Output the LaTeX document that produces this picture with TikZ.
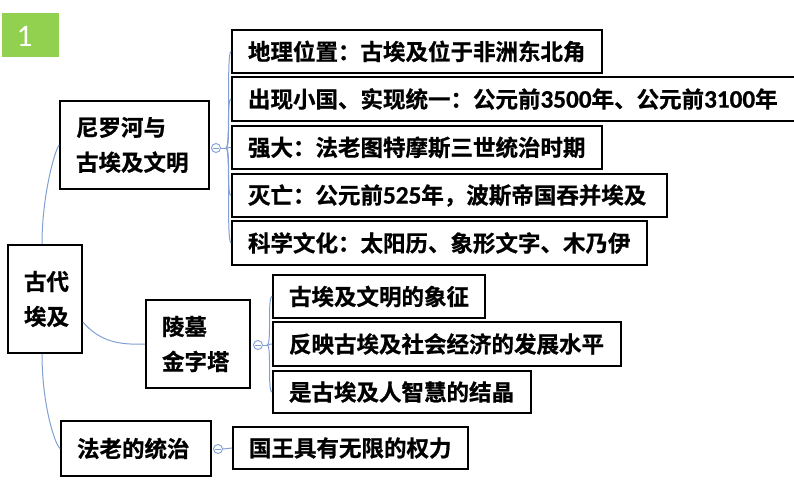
\documentclass[tikz,border=0pt]{standalone}
\usepackage{fontspec}
\setmainfont{Noto Sans CJK SC}[BoldFont={Noto Sans CJK SC Bold}, BoldFeatures={FakeBold=0.8}]
\newfontfamily\lat{Carlito}[Scale=1.12, BoldFont={Carlito Bold}, BoldFeatures={FakeBold=0.8}]
\usetikzlibrary{calc}
\definecolor{conncol}{RGB}{128,160,212}
\definecolor{tagGreen}{RGB}{146,208,80}
\tikzset{
  bx/.style={draw=black, line width=1.8pt, fill=white, inner xsep=16pt, inner ysep=0pt,
    align=left, font=\bfseries\fontsize{22.5}{35}\selectfont},
  conn/.style={draw=conncol, line width=1pt},
  circ/.style={draw=conncol, line width=0.9pt, circle, minimum size=9pt, inner sep=0pt, fill=white,
    path picture={\draw[conncol, line width=0.9pt] ([xshift=1.5pt]path picture bounding box.west) -- ([xshift=-1.5pt]path picture bounding box.east);}},
}
\newcommand\mbx[6]{%
  \pgfmathsetmacro\bw{#4-#2}\pgfmathsetmacro\bh{#5-#3}\pgfmathsetmacro\tw{#4-#2-32}%
  \pgfmathsetmacro\cx{(#2+#4)/2}\pgfmathsetmacro\cy{(#3+#5)/2}%
  \node[bx, minimum width=\bw pt, minimum height=\bh pt, text width=\tw pt] (#1) at (\cx,\cy) {#6};}
\newcommand\br[2]{\draw[conn] (#1) .. controls ($(#1)+(5,0)$) and ($(#2.west)+(-5,0)$) .. (#2.west);}
\newcommand\num[1]{{\lat\bfseries #1}}
\begin{document}
\begin{tikzpicture}[x=1pt,y=-1pt]
\useasboundingbox (0,0) rectangle (794,496);
% tag
\node[fill=tagGreen, minimum width=57pt, minimum height=44pt, inner sep=0pt] (tag) at (30.5,35) {};
\node[text=white, font=\lat\fontsize{28}{28}\selectfont, inner sep=0pt] (tagnum) at (24.5,36) {1};
% boxes
\mbx{anc}{8}{245}{82}{353}{古代\\埃及}
\mbx{nile}{60}{101}{209}{189}{尼罗河与\\古埃及文明}
\mbx{pyr}{146}{300}{250}{388}{陵墓\\金字塔}
\mbx{phar}{61}{421}{211}{476}{法老的统治}
\mbx{a1}{232}{30}{602}{73}{地理位置：古埃及位于非洲东北角}
\mbx{a2}{232}{77}{812}{121}{出现小国、实现统一：公元前\num{3500}年、公元前\num{3100}年}
\mbx{a3}{232}{126}{602}{169}{强大：法老图特摩斯三世统治时期}
\mbx{a4}{232}{174}{667}{217}{灭亡：公元前\num{525}年，波斯帝国吞并埃及}
\mbx{a5}{232}{221}{647}{265}{科学文化：太阳历、象形文字、木乃伊}
\mbx{b1}{273}{275}{485}{318}{古埃及文明的象征}
\mbx{b2}{273}{322}{621}{366}{反映古埃及社会经济的发展水平}
\mbx{b3}{273}{371}{531}{413}{是古埃及人智慧的结晶}
\mbx{c1}{233}{427}{468}{469}{国王具有无限的权力}
% main connectors
\draw[conn] ([xshift=-3pt]anc.north) .. controls (42,195) and (55,150) .. (nile.west);
\draw[conn] (anc.east |- 0,322) coordinate (ae) .. controls (100,342) and (120,345) .. (pyr.west);
\draw[conn] ([xshift=-3pt]anc.south) .. controls (42,405) and (55,445) .. (phar.west);
% collapse markers and forks
\node[circ] (k1) at (216,148) {};
\coordinate (f1) at (226,148);
\draw[conn] (k1.east) -- (f1);
\br{f1}{a1}\br{f1}{a2}\br{f1}{a3}\br{f1}{a4}\br{f1}{a5}
\node[circ] (k2) at (258,345) {};
\coordinate (f2) at (267,345);
\draw[conn] (k2.east) -- (f2);
\br{f2}{b1}\br{f2}{b2}\br{f2}{b3}
\node[circ] (k3) at (218,449) {};
\draw[conn] (k3.east) -- (c1.west);
\end{tikzpicture}
\end{document}
